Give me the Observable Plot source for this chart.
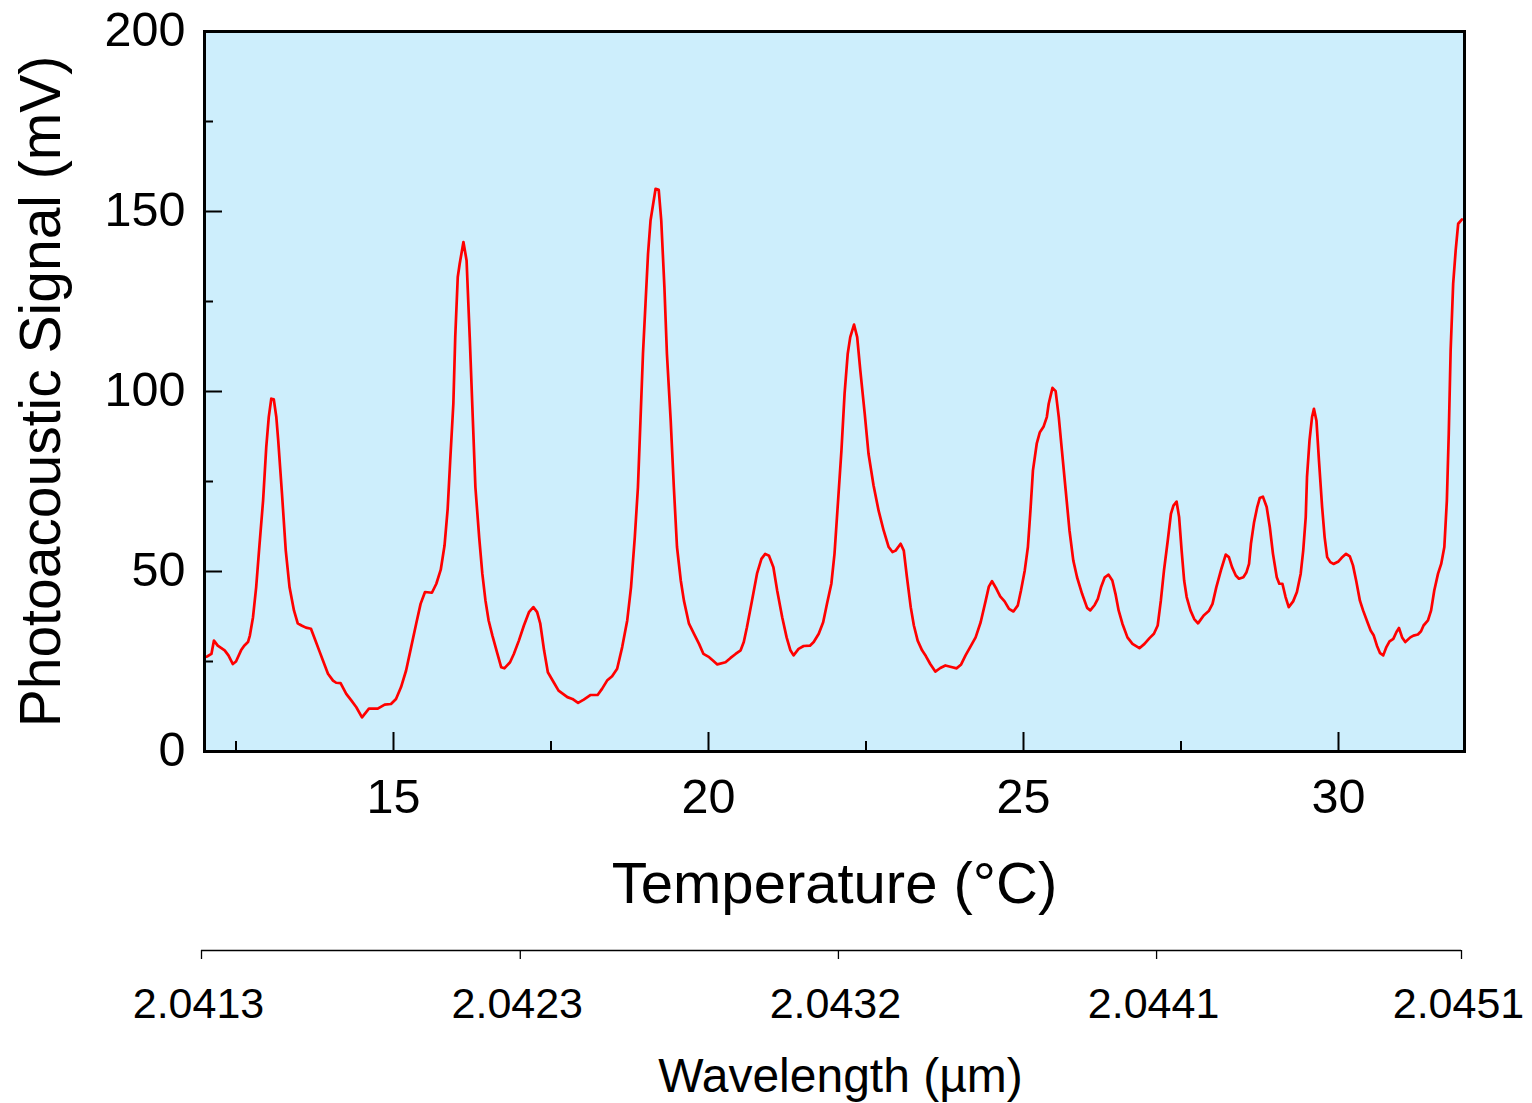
<!DOCTYPE html>
<html>
<head>
<meta charset="utf-8">
<script src="https://cdn.jsdelivr.net/npm/d3@7"></script>
<script src="https://cdn.jsdelivr.net/npm/@observablehq/plot@0.6"></script>
<style>
  html, body { margin: 0; padding: 0; background: #ffffff; }
  #chart svg { display: block; }
</style>
</head>
<body>
<div id="chart"></div>
<script>
// ---- Data ----
const temperature = [
  12.00, 12.04, 12.11, 12.15, 12.21, 12.32, 12.38, 12.45, 12.50, 12.58, 12.63, 12.69, 12.72, 12.77, 12.82, 12.87,
  12.93, 12.98, 13.02, 13.06, 13.10, 13.14, 13.17, 13.23, 13.29, 13.35, 13.42, 13.48, 13.54, 13.61, 13.69, 13.75,
  13.83, 13.88, 13.96, 14.04, 14.09, 14.16, 14.25, 14.33, 14.41, 14.50, 14.61, 14.75, 14.86, 14.96, 15.04, 15.12,
  15.20, 15.28, 15.36, 15.43, 15.50, 15.61, 15.68, 15.75, 15.81, 15.86, 15.90, 15.95, 15.98, 16.02, 16.05, 16.11,
  16.16, 16.21, 16.26, 16.30, 16.36, 16.41, 16.46, 16.51, 16.57, 16.65, 16.71, 16.76, 16.85, 16.91, 16.99, 17.07,
  17.15, 17.22, 17.28, 17.33, 17.39, 17.45, 17.54, 17.62, 17.76, 17.84, 17.93, 18.02, 18.13, 18.24, 18.31, 18.39,
  18.47, 18.55, 18.63, 18.71, 18.77, 18.83, 18.88, 18.92, 18.96, 19.00, 19.04, 19.08, 19.16, 19.21, 19.25, 19.30,
  19.34, 19.40, 19.45, 19.50, 19.56, 19.61, 19.69, 19.77, 19.85, 19.92, 20.01, 20.07, 20.14, 20.27, 20.35, 20.43,
  20.51, 20.56, 20.61, 20.69, 20.77, 20.84, 20.90, 20.96, 21.03, 21.09, 21.17, 21.24, 21.30, 21.35, 21.43, 21.51,
  21.61, 21.67, 21.75, 21.82, 21.88, 21.95, 22.00, 22.05, 22.11, 22.16, 22.21, 22.25, 22.31, 22.36, 22.41, 22.48,
  22.54, 22.62, 22.70, 22.78, 22.86, 22.92, 22.97, 23.05, 23.10, 23.15, 23.21, 23.26, 23.32, 23.39, 23.45, 23.52,
  23.60, 23.68, 23.76, 23.87, 23.94, 24.01, 24.08, 24.16, 24.24, 24.32, 24.40, 24.45, 24.50, 24.57, 24.63, 24.70,
  24.77, 24.84, 24.91, 24.96, 25.02, 25.07, 25.11, 25.15, 25.21, 25.26, 25.32, 25.37, 25.40, 25.46, 25.51, 25.56,
  25.61, 25.67, 25.73, 25.79, 25.85, 25.93, 26.01, 26.06, 26.13, 26.18, 26.23, 26.29, 26.35, 26.41, 26.46, 26.51,
  26.57, 26.65, 26.73, 26.84, 26.92, 27.00, 27.07, 27.13, 27.18, 27.23, 27.29, 27.34, 27.38, 27.43, 27.47, 27.51,
  27.55, 27.59, 27.65, 27.71, 27.77, 27.86, 27.94, 28.00, 28.06, 28.14, 28.21, 28.26, 28.31, 28.37, 28.42, 28.49,
  28.54, 28.58, 28.61, 28.66, 28.71, 28.75, 28.80, 28.86, 28.91, 28.96, 29.02, 29.06, 29.11, 29.16, 29.21, 29.28,
  29.34, 29.40, 29.44, 29.48, 29.50, 29.54, 29.58, 29.61, 29.65, 29.69, 29.74, 29.78, 29.82, 29.87, 29.92, 30.00,
  30.05, 30.12, 30.18, 30.23, 30.28, 30.34, 30.39, 30.46, 30.51, 30.56, 30.61, 30.66, 30.71, 30.76, 30.81, 30.87,
  30.92, 30.96, 31.01, 31.06, 31.14, 31.19, 31.26, 31.31, 31.35, 31.42, 31.47, 31.52, 31.58, 31.63, 31.68, 31.72,
  31.75, 31.78, 31.82, 31.86, 31.90, 31.96
];
const signal = [
  26.2, 26.4, 27.1, 30.8, 29.4, 28.1, 26.7, 24.3, 25.0, 28.1, 29.4, 30.4, 32.2, 37.3, 45.6, 56.8,
  69.7, 84.5, 92.9, 98.0, 97.8, 92.9, 86.4, 71.6, 55.8, 45.6, 39.2, 35.6, 35.0, 34.4, 34.1, 31.3,
  27.6, 25.3, 21.6, 19.7, 19.1, 19.0, 16.0, 14.2, 12.3, 9.5, 11.9, 11.9, 13.0, 13.2, 14.6, 17.9,
  22.5, 29.0, 35.5, 41.0, 44.3, 44.1, 46.6, 50.5, 57.2, 67.4, 80.8, 96.6, 115.1, 131.8, 135.4, 141.5,
  136.4, 115.1, 91.9, 73.4, 59.5, 49.4, 41.9, 36.4, 32.2, 27.1, 23.4, 23.1, 24.8, 27.1, 30.8, 35.0,
  38.7, 40.1, 38.7, 35.5, 28.1, 22.0, 19.3, 16.9, 15.1, 14.6, 13.5, 14.4, 15.7, 15.7, 17.4, 19.7,
  20.9, 23.0, 29.0, 36.4, 45.6, 59.5, 73.4, 91.9, 110.5, 124.4, 138.2, 147.5, 156.3, 156.0, 147.5, 129.0,
  110.5, 91.9, 73.4, 56.8, 47.5, 41.9, 35.5, 32.7, 29.9, 27.1, 26.2, 25.3, 24.2, 24.8, 26.0, 27.1,
  28.1, 30.4, 34.5, 41.9, 49.4, 53.5, 54.9, 54.4, 51.2, 44.7, 37.3, 31.7, 28.1, 26.7, 28.5, 29.3,
  29.4, 30.4, 32.7, 35.9, 41.0, 46.6, 54.9, 67.9, 83.6, 99.4, 110.5, 115.1, 118.6, 115.1, 105.8, 93.8,
  82.7, 73.9, 66.9, 61.4, 56.8, 55.4, 55.8, 57.7, 55.8, 48.4, 40.1, 35.0, 30.8, 28.1, 26.5, 24.3,
  22.2, 23.2, 23.9, 23.4, 23.1, 24.2, 26.7, 29.2, 31.7, 35.9, 41.9, 45.8, 47.3, 45.2, 43.1, 41.7,
  39.6, 38.9, 40.6, 44.7, 50.3, 56.8, 66.9, 78.1, 85.5, 88.7, 90.3, 92.9, 96.6, 101.0, 100.1, 92.9,
  83.6, 72.5, 61.4, 53.1, 48.4, 43.8, 39.9, 39.2, 40.7, 42.4, 45.6, 48.4, 49.1, 47.5, 43.8, 39.2,
  35.5, 31.7, 29.9, 28.7, 29.9, 31.5, 32.7, 35.0, 41.9, 50.3, 58.6, 66.0, 68.3, 69.4, 65.1, 55.8,
  47.5, 42.9, 39.2, 36.8, 35.6, 37.8, 39.0, 41.0, 45.6, 50.7, 54.7, 54.0, 51.2, 48.9, 48.0, 48.4,
  49.8, 52.1, 57.7, 63.7, 67.9, 70.4, 70.8, 67.9, 62.3, 54.9, 48.4, 46.6, 46.6, 42.9, 40.1, 41.7,
  44.3, 49.4, 55.8, 65.1, 76.2, 86.4, 92.9, 95.2, 91.9, 80.8, 67.9, 59.5, 54.0, 52.6, 52.1, 52.8,
  53.8, 54.9, 54.2, 51.7, 47.5, 41.9, 39.2, 35.9, 33.6, 32.2, 29.4, 27.3, 26.7, 29.0, 30.6, 31.3,
  33.2, 34.3, 31.7, 30.4, 31.7, 32.2, 32.5, 33.4, 35.0, 36.4, 39.2, 44.7, 49.4, 52.1, 56.8, 69.7,
  88.2, 111.4, 129.9, 139.2, 146.6, 147.8
];

const xDomain = [12, 32];
const yDomain = [0, 200];
const yTicks = [0, 50, 100, 150, 200];
const yMinorTicks = [25, 75, 125, 175];
const xTicks = [15, 20, 25, 30];
const xMinorTicks = [12.5, 17.5, 22.5, 27.5];
// secondary (wavelength) axis: labels and their positions on the temperature scale
const wavelengthLabels = ["2.0413", "2.0423", "2.0432", "2.0441", "2.0451"];
const wavelengthTickTemps = [12.0, 17.06, 22.11, 27.16, 32.0];

const xLabel = "Temperature (°C)";
const yLabel = "Photoacoustic Signal (mV)";
const wLabel = "Wavelength (µm)";

const data = temperature.map((t, i) => ({ t, s: signal[i] }));
const font = "'Liberation Sans', Arial, Helvetica, sans-serif";

const W = 1532, H1 = 930, H2 = 173;
const mL = 204, mR = 68, mT = 31, mB = 179;
const frameW = W - mL - mR, frameH = H1 - mT - mB;
const majorLen = 18, minorLen = 9;

const main = Plot.plot({
  width: W,
  height: H1,
  marginLeft: mL,
  marginRight: mR,
  marginTop: mT,
  marginBottom: mB,
  style: { fontFamily: font, color: "#000", background: "transparent", overflow: "visible" },
  x: { domain: xDomain, axis: null },
  y: { domain: yDomain, axis: null },
  marks: [
    Plot.frame({ fill: "#cdeefc", stroke: null }),
    Plot.line(data, { x: "t", y: "s", stroke: "#ff0000", strokeWidth: 2.7, strokeLinejoin: "round" }),
    Plot.ruleY(yTicks, { y: d => d, insetRight: frameW - majorLen, stroke: "#000", strokeWidth: 2 }),
    Plot.ruleY(yMinorTicks, { y: d => d, insetRight: frameW - minorLen, stroke: "#000", strokeWidth: 2 }),
    Plot.ruleX(xTicks, { x: d => d, insetTop: frameH - (majorLen + 1), stroke: "#000", strokeWidth: 2 }),
    Plot.ruleX(xMinorTicks, { x: d => d, insetTop: frameH - (minorLen + 1), stroke: "#000", strokeWidth: 2 }),
    Plot.text(yTicks, { y: d => d, text: d => String(d), frameAnchor: "left", dx: -19, dy: -1, textAnchor: "end", lineAnchor: "middle", fontSize: 48.5, fill: "#000" }),
    Plot.text(xTicks, { x: d => d, text: d => String(d), frameAnchor: "bottom", dy: 27, lineAnchor: "top", fontSize: 48.5, fill: "#000" }),
    Plot.frame({ stroke: "#000", strokeWidth: 3 }),
    Plot.text([xLabel], { text: d => d, frameAnchor: "bottom", dy: 133, lineAnchor: "middle", fontSize: 58, fill: "#000" }),
    Plot.text([yLabel], { text: d => d, frameAnchor: "left", dx: -163, rotate: -90, textAnchor: "middle", lineAnchor: "middle", fontSize: 57, fill: "#000" })
  ]
});

const wave = Plot.plot({
  width: W,
  height: H2,
  marginLeft: 201,
  marginRight: 71,
  marginTop: 20,
  marginBottom: 144,
  style: { fontFamily: font, color: "#000", background: "transparent", overflow: "visible" },
  x: { domain: xDomain, axis: null },
  y: { domain: [0, 1], axis: null },
  marks: [
    Plot.ruleY([1], { y: d => d, x1: wavelengthTickTemps[0], x2: wavelengthTickTemps[wavelengthTickTemps.length - 1], stroke: "#000", strokeWidth: 1.3 }),
    Plot.ruleX(wavelengthTickTemps, { x: d => d, stroke: "#000", strokeWidth: 1.3 }),
    Plot.text(wavelengthTickTemps, { x: d => d, text: (d, i) => wavelengthLabels[i], frameAnchor: "bottom", dx: -3, dy: 28, lineAnchor: "top", fontSize: 43, fill: "#000" }),
    Plot.text([wLabel], { text: d => d, frameAnchor: "bottom", dx: 9, dy: 117, lineAnchor: "middle", fontSize: 48, fill: "#000" })
  ]
});

const root = document.getElementById("chart");
root.appendChild(main);
root.appendChild(wave);
</script>
</body>
</html>
